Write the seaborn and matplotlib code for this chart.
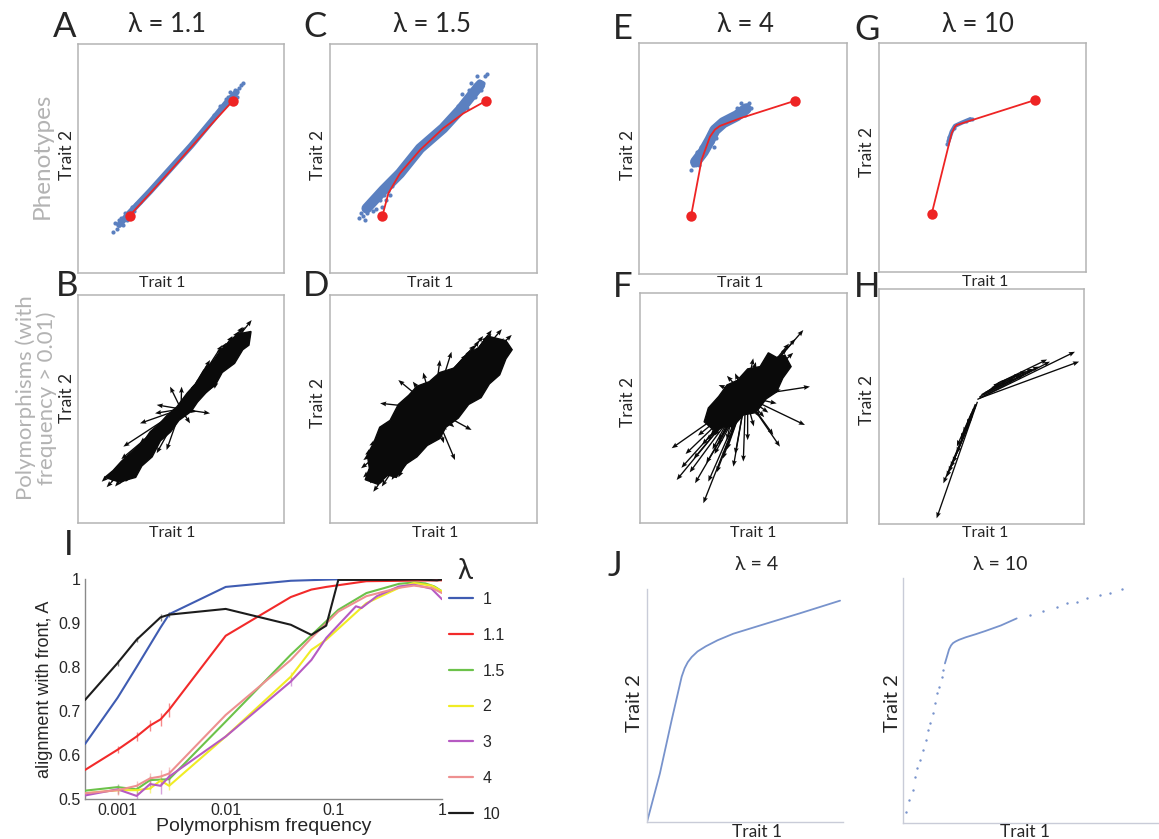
import matplotlib
matplotlib.use("Agg")
import matplotlib.pyplot as plt
import seaborn as sns
import pandas as pd

sns.set_theme(style="white")
plt.rcParams["font.family"] = ["Lato", "DejaVu Sans"]

W, H = 1159, 839
SANS = ["Lato", "DejaVu Sans"]
ARIAL = ["Liberation Sans", "DejaVu Sans"]
GREY_TXT = "#b3b3b3"
BOX = "#b4b4b4"
CLOUD = "#5b80c0"
FRONT = "#ee2424"
JBLUE = "#7893cc"

# ---------------- panel I: alignment with the front vs polymorphism frequency
lam_labels = ["1", "1.1", "1.5", "2", "3", "4", "10"]
lam_colors = ["#3f5cb2", "#f22a2a", "#6cc24a", "#f0ec24", "#b65ac2", "#ee9090", "#1c1c1c"]

freq_1 = [0.0005, 0.001, 0.0015, 0.0025, 0.003, 0.01, 0.04, 0.1, 0.3, 1.0]
algn_1 = [0.625, 0.730, 0.800, 0.890, 0.920, 0.982, 0.996, 0.999, 1.000, 1.000]
err_1 = [0.0, 0.0, 0.0, 0.0, 0.0, 0.0, 0.0, 0.0, 0.0, 0.0]

freq_11 = [0.0005, 0.001, 0.0015, 0.002, 0.0025, 0.003, 0.01, 0.04, 0.062, 0.085, 0.2, 1.0]
algn_11 = [0.566, 0.612, 0.642, 0.667, 0.681, 0.703, 0.871, 0.959, 0.976, 0.982, 0.995, 0.997]
err_11 = [0.0, 0.008, 0.010, 0.012, 0.014, 0.016, 0.0, 0.0, 0.0, 0.0, 0.0, 0.0]

freq_15 = [0.0005, 0.001, 0.0015, 0.002, 0.003, 0.01, 0.04, 0.085, 0.11, 0.2, 0.4, 0.55, 0.7, 0.85, 1.0]
algn_15 = [0.519, 0.527, 0.522, 0.543, 0.545, 0.676, 0.828, 0.904, 0.930, 0.968, 0.989, 0.992, 0.990, 0.983, 0.972]
err_15 = [0.0, 0.008, 0.008, 0.010, 0.010, 0.0, 0.0, 0.0, 0.0, 0.0, 0.0, 0.0, 0.0, 0.0, 0.0]

freq_2 = [0.0005, 0.001, 0.0015, 0.002, 0.0025, 0.003, 0.01, 0.04, 0.062, 0.085, 0.2, 0.4, 0.55, 0.8, 1.0]
algn_2 = [0.513, 0.520, 0.520, 0.524, 0.542, 0.530, 0.642, 0.778, 0.839, 0.862, 0.945, 0.980, 0.991, 0.985, 0.972]
err_2 = [0.0, 0.008, 0.008, 0.010, 0.012, 0.010, 0.0, 0.010, 0.0, 0.0, 0.0, 0.0, 0.0, 0.0, 0.0]

freq_3 = [0.0005, 0.001, 0.0015, 0.002, 0.0025, 0.003, 0.01, 0.04, 0.062, 0.085, 0.16, 0.18, 0.25, 0.4, 0.55, 0.8, 1.0]
algn_3 = [0.508, 0.522, 0.507, 0.534, 0.530, 0.551, 0.642, 0.767, 0.816, 0.866, 0.938, 0.934, 0.961, 0.983, 0.987, 0.978, 0.954]
err_3 = [0.0, 0.010, 0.010, 0.012, 0.018, 0.014, 0.0, 0.010, 0.0, 0.0, 0.0, 0.0, 0.0, 0.0, 0.0, 0.0, 0.0]

freq_4 = [0.0005, 0.001, 0.0015, 0.002, 0.0025, 0.003, 0.01, 0.04, 0.062, 0.11, 0.2, 0.4, 0.55, 0.8, 1.0]
algn_4 = [0.513, 0.520, 0.530, 0.547, 0.551, 0.558, 0.691, 0.816, 0.866, 0.926, 0.961, 0.980, 0.985, 0.980, 0.968]
err_4 = [0.0, 0.010, 0.010, 0.012, 0.016, 0.014, 0.0, 0.0, 0.0, 0.0, 0.0, 0.0, 0.0, 0.0, 0.0]

freq_10 = [0.0005, 0.001, 0.0015, 0.0025, 0.003, 0.01, 0.04, 0.062, 0.085, 0.11, 0.3, 0.6, 0.9, 1.0]
algn_10 = [0.725, 0.809, 0.862, 0.913, 0.919, 0.932, 0.896, 0.873, 0.894, 0.998, 0.998, 0.999, 0.997, 0.999]
err_10 = [0.0, 0.006, 0.006, 0.008, 0.006, 0.0, 0.0, 0.0, 0.0, 0.0, 0.0, 0.0, 0.0, 0.0]

freq_ticks = [0.001, 0.01, 0.1, 1]
freq_ticklabels = ["0.001", "0.01", "0.1", "1"]
algn_ticks = [0.5, 0.6, 0.7, 0.8, 0.9, 1.0]
algn_ticklabels = ["0.5", "0.6", "0.7", "0.8", "0.9", "1"]

# ---------------- panels A, C, E, G: phenotypes and the Pareto front
pheno_titles = ["λ = 1.1", "λ = 1.5", "λ = 4", "λ = 10"]

front_x_11 = [0.25, 0.35, 0.45, 0.55, 0.65, 0.75]
front_y_11 = [0.25, 0.348, 0.448, 0.550, 0.652, 0.75]
core_x_11 = [0.20, 0.25, 0.35, 0.45, 0.55, 0.65, 0.72, 0.77]
core_y_11 = [0.21, 0.262, 0.357, 0.457, 0.557, 0.665, 0.742, 0.790]
fuzz_x_11 = [0.17, 0.19, 0.21, 0.23, 0.26, 0.28, 0.30, 0.18, 0.22, 0.24, 0.20, 0.27,
             0.72, 0.74, 0.76, 0.78, 0.79, 0.70, 0.73, 0.75, 0.77, 0.71, 0.68, 0.69, 0.80, 0.66]
fuzz_y_11 = [0.18, 0.19, 0.24, 0.26, 0.29, 0.30, 0.31, 0.22, 0.21, 0.23, 0.23, 0.27,
             0.76, 0.79, 0.80, 0.81, 0.82, 0.72, 0.77, 0.78, 0.77, 0.74, 0.70, 0.73, 0.83, 0.69]

front_x_15 = [0.253, 0.282, 0.338, 0.435, 0.547, 0.644, 0.752]
front_y_15 = [0.249, 0.348, 0.435, 0.537, 0.632, 0.697, 0.751]
core_x_15 = [0.177, 0.258, 0.338, 0.435, 0.547, 0.628, 0.692, 0.725]
core_y_15 = [0.282, 0.362, 0.435, 0.544, 0.632, 0.712, 0.785, 0.821]
fuzz_x_15 = [0.16, 0.18, 0.20, 0.22, 0.24, 0.26, 0.28, 0.19, 0.23, 0.21, 0.27, 0.15, 0.17,
             0.25, 0.30, 0.18, 0.14, 0.29,
             0.62, 0.65, 0.67, 0.70, 0.72, 0.74, 0.75, 0.70, 0.66, 0.64, 0.68, 0.73, 0.60,
             0.71, 0.69, 0.76]
fuzz_y_15 = [0.25, 0.26, 0.30, 0.28, 0.32, 0.34, 0.36, 0.31, 0.35, 0.27, 0.32, 0.26, 0.23,
             0.29, 0.38, 0.29, 0.24, 0.34,
             0.73, 0.76, 0.80, 0.82, 0.84, 0.83, 0.86, 0.77, 0.72, 0.78, 0.83, 0.80, 0.69,
             0.86, 0.79, 0.87]

front_x_4 = [0.25, 0.301, 0.341, 0.365, 0.389, 0.486, 0.75]
front_y_4 = [0.25, 0.494, 0.594, 0.625, 0.641, 0.674, 0.75]
core_x_4 = [0.272, 0.309, 0.341, 0.365, 0.405, 0.470, 0.515]
core_y_4 = [0.485, 0.529, 0.580, 0.623, 0.655, 0.685, 0.715]
fuzz_x_4 = [0.25, 0.27, 0.29, 0.31, 0.33, 0.35, 0.37, 0.48, 0.50, 0.52, 0.53, 0.51,
            0.45, 0.42, 0.47, 0.28, 0.30, 0.26, 0.32, 0.36, 0.49, 0.54]
fuzz_y_4 = [0.45, 0.50, 0.47, 0.51, 0.55, 0.57, 0.59, 0.70, 0.72, 0.73, 0.74, 0.69,
            0.68, 0.66, 0.72, 0.53, 0.55, 0.47, 0.54, 0.55, 0.74, 0.72]

front_x_10 = [0.254, 0.351, 0.367, 0.375, 0.424, 0.754]
front_y_10 = [0.252, 0.606, 0.635, 0.642, 0.656, 0.751]
core_x_10 = [0.335, 0.351, 0.367, 0.400, 0.440]
core_y_10 = [0.569, 0.613, 0.638, 0.652, 0.667]
fuzz_x_10 = [0.33, 0.34, 0.36, 0.42, 0.44, 0.45]
fuzz_y_10 = [0.56, 0.59, 0.63, 0.66, 0.67, 0.67]

# ---------------- panels B, D, F, H: polymorphism effect vectors
# outline of the region where the vectors overlap into a solid mass
mass_x_11 = [0.78, 0.75, 0.70, 0.66, 0.61, 0.57, 0.53, 0.48, 0.43, 0.40, 0.35, 0.32, 0.27, 0.21,
             0.17, 0.13,
             0.20, 0.28, 0.31, 0.36, 0.40, 0.45, 0.49, 0.55, 0.58, 0.62, 0.67, 0.70, 0.76, 0.80,
             0.83, 0.84]
mass_y_11 = [0.83, 0.79, 0.76, 0.71, 0.67, 0.61, 0.57, 0.51, 0.47, 0.44, 0.40, 0.36, 0.32, 0.27,
             0.23, 0.20,
             0.18, 0.20, 0.25, 0.29, 0.36, 0.40, 0.45, 0.49, 0.53, 0.57, 0.61, 0.66, 0.70, 0.76,
             0.78, 0.84]
mass_x_15 = [0.76, 0.72, 0.66, 0.60, 0.53, 0.48, 0.42, 0.38, 0.33, 0.29, 0.24, 0.21, 0.18, 0.19,
             0.17,
             0.23, 0.28, 0.32, 0.37, 0.42, 0.47, 0.53, 0.56, 0.62, 0.67, 0.73, 0.77, 0.82, 0.85,
             0.88, 0.85]
mass_y_15 = [0.82, 0.77, 0.74, 0.68, 0.66, 0.62, 0.60, 0.56, 0.52, 0.45, 0.42, 0.35, 0.30, 0.24,
             0.19,
             0.17, 0.21, 0.20, 0.26, 0.29, 0.34, 0.37, 0.42, 0.46, 0.52, 0.55, 0.61, 0.65, 0.72,
             0.76, 0.80]
mass_x_4 = [0.36, 0.41, 0.45, 0.50, 0.56, 0.61, 0.66, 0.69, 0.73, 0.70, 0.66, 0.62, 0.58, 0.52,
            0.47, 0.42, 0.38, 0.33, 0.31]
mass_y_4 = [0.40, 0.42, 0.42, 0.47, 0.48, 0.54, 0.57, 0.63, 0.68, 0.73, 0.72, 0.74, 0.68, 0.67,
            0.62, 0.60, 0.55, 0.50, 0.44]

# B (lambda = 1.1)
base_x_11 = [0.50] * 48 + [
    0.50, 0.52, 0.55, 0.58, 0.60, 0.54, 0.56, 0.62, 0.57, 0.53, 0.51, 0.59, 0.63, 0.55, 0.61,
    0.50, 0.48, 0.45, 0.42, 0.40, 0.46, 0.44, 0.38, 0.43, 0.47, 0.49, 0.41, 0.37, 0.45, 0.39]
base_y_11 = [0.50] * 48 + [
    0.50, 0.53, 0.57, 0.60, 0.63, 0.55, 0.58, 0.66, 0.61, 0.56, 0.52, 0.62, 0.67, 0.59, 0.64,
    0.50, 0.48, 0.44, 0.41, 0.38, 0.46, 0.43, 0.37, 0.42, 0.47, 0.49, 0.40, 0.36, 0.45, 0.39]
tip_x_11 = [0.843, 0.835, 0.786, 0.80, 0.76, 0.74, 0.72, 0.78, 0.70, 0.68, 0.75, 0.66, 0.64, 0.62,
            0.641, 0.60, 0.70, 0.72,
            0.115, 0.139, 0.236, 0.16, 0.18, 0.20, 0.22, 0.24, 0.19, 0.26, 0.28, 0.30, 0.32, 0.34,
            0.21, 0.220, 0.25, 0.36, 0.30,
            0.681, 0.641, 0.576, 0.447, 0.503, 0.382, 0.374, 0.382, 0.430, 0.544, 0.301,
            0.74, 0.76, 0.72, 0.78, 0.70, 0.73, 0.77, 0.81, 0.69, 0.75, 0.79, 0.67, 0.71, 0.80, 0.74,
            0.22, 0.20, 0.24, 0.18, 0.26, 0.21, 0.23, 0.25, 0.19, 0.27, 0.29, 0.17, 0.28, 0.30, 0.24]
tip_y_11 = [0.890, 0.810, 0.832, 0.86, 0.80, 0.78, 0.76, 0.79, 0.74, 0.73, 0.82, 0.68, 0.70, 0.66,
            0.715, 0.64, 0.78, 0.72,
            0.181, 0.157, 0.203, 0.18, 0.20, 0.21, 0.24, 0.26, 0.23, 0.25, 0.30, 0.28, 0.33, 0.36,
            0.28, 0.335, 0.22, 0.38, 0.35,
            0.613, 0.481, 0.488, 0.598, 0.598, 0.518, 0.481, 0.306, 0.320, 0.437, 0.437,
            0.80, 0.82, 0.79, 0.84, 0.77, 0.76, 0.81, 0.86, 0.74, 0.79, 0.82, 0.72, 0.75, 0.83, 0.77,
            0.19, 0.17, 0.22, 0.16, 0.25, 0.21, 0.18, 0.23, 0.19, 0.27, 0.28, 0.19, 0.25, 0.30, 0.25]

# D (lambda = 1.5)
base_x_15 = [0.50] * 55 + [
    0.50, 0.52, 0.48, 0.55, 0.53, 0.50, 0.56, 0.47, 0.58, 0.51, 0.54, 0.49, 0.57, 0.52, 0.46,
    0.50, 0.48, 0.52, 0.45, 0.47, 0.50, 0.44, 0.53, 0.42, 0.49, 0.46, 0.51, 0.43, 0.48, 0.54]
base_y_15 = [0.50] * 55 + [
    0.50, 0.48, 0.52, 0.53, 0.55, 0.47, 0.50, 0.55, 0.54, 0.56, 0.51, 0.49, 0.56, 0.52, 0.51,
    0.50, 0.52, 0.48, 0.47, 0.45, 0.53, 0.50, 0.45, 0.46, 0.44, 0.49, 0.51, 0.44, 0.48, 0.49]
tip_x_15 = [0.781, 0.878, 0.870, 0.821, 0.85, 0.83, 0.80, 0.76, 0.74, 0.72, 0.78, 0.70, 0.68, 0.66,
            0.75, 0.86, 0.80, 0.64, 0.72, 0.62,
            0.161, 0.193, 0.209, 0.298, 0.18, 0.20, 0.22, 0.24, 0.26, 0.17, 0.28, 0.30, 0.22, 0.32,
            0.34, 0.25, 0.19, 0.36, 0.27, 0.33,
            0.587, 0.531, 0.330, 0.242, 0.604, 0.563, 0.684, 0.40, 0.45, 0.60, 0.38, 0.65, 0.35,
            0.55, 0.45,
            0.80, 0.82, 0.78, 0.75, 0.84, 0.72, 0.77, 0.70, 0.81, 0.74, 0.68, 0.79, 0.86, 0.73, 0.66,
            0.20, 0.22, 0.18, 0.25, 0.16, 0.28, 0.24, 0.21, 0.30, 0.19, 0.27, 0.32, 0.15, 0.26, 0.23]
tip_y_15 = [0.846, 0.825, 0.759, 0.671, 0.80, 0.85, 0.78, 0.82, 0.76, 0.80, 0.72, 0.70, 0.76, 0.72,
            0.68, 0.79, 0.70, 0.66, 0.64, 0.70,
            0.276, 0.174, 0.137, 0.189, 0.22, 0.25, 0.20, 0.28, 0.22, 0.30, 0.26, 0.32, 0.32, 0.24,
            0.30, 0.16, 0.34, 0.36, 0.35, 0.20,
            0.751, 0.715, 0.627, 0.525, 0.276, 0.408, 0.408, 0.62, 0.66, 0.42, 0.40, 0.55, 0.45,
            0.35, 0.35,
            0.80, 0.76, 0.83, 0.78, 0.81, 0.74, 0.70, 0.78, 0.72, 0.82, 0.68, 0.76, 0.77, 0.70, 0.74,
            0.22, 0.18, 0.26, 0.24, 0.20, 0.28, 0.17, 0.30, 0.22, 0.19, 0.32, 0.27, 0.24, 0.20, 0.27]

# F (lambda = 4)
base_x_4 = [0.51] * 49 + [
    0.52, 0.50, 0.54, 0.49, 0.53, 0.51, 0.48, 0.47, 0.49, 0.46, 0.50, 0.48, 0.52, 0.50, 0.48,
    0.51, 0.50, 0.52, 0.53, 0.47]
base_y_4 = [0.55] * 49 + [
    0.57, 0.58, 0.56, 0.57, 0.55, 0.53, 0.53, 0.55, 0.52, 0.54, 0.51, 0.56, 0.58, 0.57, 0.53,
    0.55, 0.52, 0.54, 0.59, 0.52]
tip_x_4 = [0.789, 0.821, 0.797, 0.676, 0.547, 0.459, 0.153, 0.177, 0.266, 0.306, 0.499, 0.451,
           0.644, 0.709,
           0.72, 0.74, 0.70, 0.68, 0.66, 0.64, 0.62, 0.75, 0.60, 0.58,
           0.22, 0.26, 0.30, 0.24, 0.32, 0.34, 0.36, 0.20, 0.38, 0.28, 0.40, 0.42, 0.37, 0.33, 0.46,
           0.38, 0.42, 0.44, 0.58, 0.62, 0.40, 0.56, 0.55, 0.35, 0.66,
           0.64, 0.62, 0.66, 0.58, 0.68, 0.60, 0.36, 0.38, 0.34, 0.42, 0.32, 0.40, 0.56, 0.46,
           0.44, 0.60, 0.40, 0.52, 0.66, 0.35]
tip_y_4 = [0.839, 0.593, 0.426, 0.332, 0.716, 0.651, 0.325, 0.187, 0.173, 0.086, 0.267, 0.245,
           0.383, 0.760,
           0.78, 0.74, 0.70, 0.66, 0.72, 0.64, 0.60, 0.80, 0.66, 0.62,
           0.30, 0.28, 0.34, 0.22, 0.26, 0.38, 0.30, 0.24, 0.36, 0.38, 0.28, 0.32, 0.22, 0.18, 0.30,
           0.60, 0.64, 0.56, 0.46, 0.48, 0.46, 0.56, 0.42, 0.48, 0.52,
           0.66, 0.70, 0.62, 0.64, 0.58, 0.58, 0.38, 0.34, 0.42, 0.36, 0.36, 0.42, 0.70, 0.62,
           0.40, 0.46, 0.56, 0.36, 0.68, 0.32]

# H (lambda = 10)
base_x_10 = [0.48, 0.49, 0.50, 0.52, 0.50, 0.55, 0.53, 0.56, 0.58, 0.49, 0.51, 0.54,
             0.48, 0.475, 0.47, 0.47, 0.46, 0.45, 0.45, 0.44, 0.47, 0.46, 0.455]
base_y_10 = [0.53, 0.535, 0.54, 0.56, 0.55, 0.58, 0.56, 0.59, 0.60, 0.54, 0.55, 0.57,
             0.52, 0.51, 0.50, 0.50, 0.48, 0.45, 0.47, 0.43, 0.51, 0.49, 0.46]
tip_x_10 = [0.956, 0.976, 0.834, 0.704, 0.623, 0.75, 0.66, 0.82, 0.72, 0.59, 0.78, 0.69,
            0.281, 0.314, 0.379, 0.411, 0.35, 0.33, 0.38, 0.36, 0.43, 0.40, 0.34]
tip_y_10 = [0.733, 0.691, 0.691, 0.634, 0.613, 0.66, 0.62, 0.70, 0.65, 0.60, 0.67, 0.64,
            0.024, 0.173, 0.301, 0.386, 0.24, 0.20, 0.33, 0.26, 0.42, 0.36, 0.22]

# ---------------- panel J: equilibrium fronts for lambda = 4 and lambda = 10
j_titles = ["λ = 4", "λ = 10"]
jfront_x_4 = [0.0, 0.066, 0.126, 0.177, 0.192, 0.208, 0.228, 0.258, 0.300, 0.360, 0.440,
              0.610, 0.781, 0.985]
jfront_y_4 = [0.0, 0.209, 0.438, 0.624, 0.660, 0.686, 0.708, 0.732, 0.754, 0.780, 0.808,
              0.852, 0.896, 0.950]
jdense_x_10 = [0.214, 0.235, 0.245, 0.255, 0.268, 0.285, 0.320, 0.370, 0.420, 0.500, 0.580]
jdense_y_10 = [0.685, 0.745, 0.762, 0.772, 0.779, 0.786, 0.797, 0.810, 0.824, 0.848, 0.878]
jsparse_x_10 = [0.015, 0.032, 0.049, 0.061, 0.073, 0.087, 0.104, 0.117, 0.129, 0.138, 0.152,
                0.163, 0.175, 0.185, 0.197, 0.206,
                0.648, 0.716, 0.784, 0.835, 0.886, 0.937, 1.005, 1.056, 1.116]
jsparse_y_10 = [0.048, 0.099, 0.142, 0.199, 0.235, 0.270, 0.313, 0.356, 0.399, 0.428, 0.471,
                0.514, 0.557, 0.585, 0.628, 0.657,
                0.893, 0.911, 0.928, 0.943, 0.950, 0.964, 0.979, 0.988, 1.003]


fig = plt.figure(figsize=(W / 100, H / 100), dpi=100)


def px_axes(l, t, r, b):
    return fig.add_axes([l / W, 1 - b / H, (r - l) / W, (b - t) / H])


def px_text(x, y, s, **kw):
    kw.setdefault("ha", "center")
    kw.setdefault("va", "center")
    fig.text(x / W, 1 - y / H, s, **kw)


def boxed(ax):
    ax.set_xlim(0, 1)
    ax.set_ylim(0, 1)
    ax.set_xticks([])
    ax.set_yticks([])
    ax.set_xlabel("")
    ax.set_ylabel("")
    for sp in ax.spines.values():
        sp.set_visible(True)
        sp.set_color(BOX)
        sp.set_linewidth(1.1)


# ---- phenotype panels
pheno_rects = [(78, 44, 284, 273), (330, 44, 537, 273), (639, 43, 847, 274), (879, 43, 1086, 272)]
pheno_sets = [
    (front_x_11, front_y_11, core_x_11, core_y_11, fuzz_x_11, fuzz_y_11, 4.5),
    (front_x_15, front_y_15, core_x_15, core_y_15, fuzz_x_15, fuzz_y_15, 7.5),
    (front_x_4, front_y_4, core_x_4, core_y_4, fuzz_x_4, fuzz_y_4, 8.0),
    (front_x_10, front_y_10, core_x_10, core_y_10, fuzz_x_10, fuzz_y_10, 3.0),
]
for rect, (fx, fy, cx, cy, zx, zy, cw) in zip(pheno_rects, pheno_sets):
    ax = px_axes(*rect)
    ax.plot(cx, cy, color=CLOUD, lw=cw, solid_capstyle="round", solid_joinstyle="round", zorder=2)
    sns.scatterplot(x=zx, y=zy, color=CLOUD, s=9, linewidth=0, ax=ax, zorder=3)
    sns.lineplot(x=fx, y=fy, sort=False, estimator=None, color=FRONT, lw=1.3, ax=ax, zorder=4)
    ax.plot([fx[0], fx[-1]], [fy[0], fy[-1]], ls="none", marker="o", ms=7.5, color=FRONT,
            mec="none", zorder=5)
    boxed(ax)

# ---- polymorphism panels
poly_rects = [(78, 295, 284, 523), (330, 295, 537, 523), (640, 293, 847, 523), (879, 289, 1084, 524)]
poly_sets = [
    (base_x_11, base_y_11, tip_x_11, tip_y_11, mass_x_11, mass_y_11),
    (base_x_15, base_y_15, tip_x_15, tip_y_15, mass_x_15, mass_y_15),
    (base_x_4, base_y_4, tip_x_4, tip_y_4, mass_x_4, mass_y_4),
    (base_x_10, base_y_10, tip_x_10, tip_y_10, None, None),
]
for rect, (bx, by, tx, ty, mx, my) in zip(poly_rects, poly_sets):
    ax = px_axes(*rect)
    if mx is not None:
        ax.fill(mx, my, color="#0a0a0a", lw=1.0, zorder=2)
    u = [t - b for t, b in zip(tx, bx)]
    v = [t - b for t, b in zip(ty, by)]
    ax.quiver(bx, by, u, v, angles="xy", scale_units="xy", scale=1, color="#0a0a0a",
              width=0.0065, headwidth=3.6, headlength=4.6, headaxislength=4.1, zorder=3)
    boxed(ax)

# ---- titles, letters and axis names for the grid
title_pos = [(167, 25), (432, 25), (745, 25), (978, 25)]
for (x, y), s in zip(title_pos, pheno_titles):
    px_text(x, y, s, fontsize=18.5, family=SANS)

letters = [("A", 65, 27), ("C", 315, 27), ("E", 623, 29), ("G", 867, 30),
           ("B", 67, 286), ("D", 316, 286), ("F", 623, 287), ("H", 867, 287),
           ("I", 69, 545), ("J", 615, 566)]
for s, x, y in letters:
    px_text(x, y, s, fontsize=25, family=SANS)

for x, y in [(162, 283), (430, 283), (740, 283), (985, 282),
             (172, 533), (435, 533), (753, 533), (985, 533)]:
    px_text(x, y, "Trait 1", fontsize=11.5, family=SANS)
for x, y in [(67, 155), (318, 155), (628, 155), (867, 152),
             (67, 398), (318, 403), (628, 402), (867, 400)]:
    px_text(x, y, "Trait 2", fontsize=12.5, family=SANS, rotation=90)

px_text(42, 156, "Phenotypes", fontsize=17.5, family=SANS, rotation=90, color=GREY_TXT)
px_text(36, 398, "Polymorphisms (with\nfrequency > 0.01)", fontsize=16, family=SANS,
        rotation=90, color=GREY_TXT, linespacing=1.0)

# ---- panel I
axI = px_axes(85, 579, 442, 799)
series = [
    (freq_1, algn_1, err_1), (freq_11, algn_11, err_11), (freq_15, algn_15, err_15),
    (freq_2, algn_2, err_2), (freq_3, algn_3, err_3), (freq_4, algn_4, err_4),
    (freq_10, algn_10, err_10),
]
rows = []
for lab, (fq, al, _) in zip(lam_labels, series):
    rows += [{"freq": f, "A": a, "lam": lab} for f, a in zip(fq, al)]
df_I = pd.DataFrame(rows)
for lab, col, (fq, al, er) in zip(lam_labels, lam_colors, series):
    axI.errorbar(fq, al, yerr=er, fmt="none", ecolor=col, elinewidth=1.0, alpha=0.55, zorder=2)
sns.lineplot(data=df_I, x="freq", y="A", hue="lam", hue_order=lam_labels,
             palette=lam_colors, estimator=None, sort=False, lw=1.5, ax=axI, zorder=3)
axI.set_xscale("log")
axI.set_xlim(0.0005, 1.0)
axI.set_ylim(0.5, 1.0)
axI.set_xticks(freq_ticks)
axI.set_xticklabels(freq_ticklabels, family=ARIAL, fontsize=11.5)
axI.minorticks_off()
axI.set_yticks(algn_ticks)
axI.set_yticklabels(algn_ticklabels, family=ARIAL, fontsize=11.5)
axI.tick_params(axis="both", direction="in", length=3, width=0.8, color="#777777", pad=3)
axI.set_xlabel("Polymorphism frequency", family=ARIAL, fontsize=14, labelpad=0)
axI.set_ylabel("alignment with front, A", family=ARIAL, fontsize=13, labelpad=4)
for side in ("top", "right"):
    axI.spines[side].set_visible(False)
for side in ("left", "bottom"):
    axI.spines[side].set_color("#8a8a8a")
    axI.spines[side].set_linewidth(1.0)
handles, labels = axI.get_legend_handles_labels()
leg = axI.legend(handles, labels, loc="upper left",
                 bbox_to_anchor=(449 / W, 1 - 592 / H), bbox_transform=fig.transFigure,
                 frameon=False, borderaxespad=0, borderpad=0, handlelength=1.5,
                 handletextpad=0.6, labelspacing=1.3,
                 prop={"family": ARIAL, "size": 11.5})
for ln in leg.get_lines():
    ln.set_linewidth(1.6)
px_text(465, 571, "λ", fontsize=20, family=SANS)

# ---- panel J
j_rects = [(647, 589, 843, 822), (903, 578, 1159, 823)]
axJ1 = px_axes(*j_rects[0])
sns.lineplot(x=jfront_x_4, y=jfront_y_4, sort=False, estimator=None, color=JBLUE,
             lw=1.3, ax=axJ1)
axJ1.set_xlim(0, 1)
axJ1.set_ylim(0, 1)
axJ2 = px_axes(*j_rects[1])
sns.lineplot(x=jdense_x_10, y=jdense_y_10, sort=False, estimator=None, color=JBLUE,
             lw=1.3, ax=axJ2)
sns.scatterplot(x=jsparse_x_10, y=jsparse_y_10, color=JBLUE, s=3, linewidth=0, ax=axJ2)
axJ2.set_xlim(0, 256 / 196)
axJ2.set_ylim(0, 245 / 233)
for ax in (axJ1, axJ2):
    ax.set_xticks([])
    ax.set_yticks([])
    ax.set_xlabel("")
    ax.set_ylabel("")
    for side in ("top", "right"):
        ax.spines[side].set_visible(False)
    for side in ("left", "bottom"):
        ax.spines[side].set_color("#c9ccd8")
        ax.spines[side].set_linewidth(1.0)

px_text(757, 565, j_titles[0], fontsize=14, family=SANS)
px_text(1000, 565, j_titles[1], fontsize=14, family=SANS)
px_text(757, 832, "Trait 1", fontsize=12.5, family=SANS)
px_text(1025, 832, "Trait 1", fontsize=12.5, family=SANS)
px_text(635, 703, "Trait 2", fontsize=14.5, family=SANS, rotation=90)
px_text(892, 703, "Trait 2", fontsize=14.5, family=SANS, rotation=90)

fig.savefig("out.png", dpi=100, facecolor="white")
